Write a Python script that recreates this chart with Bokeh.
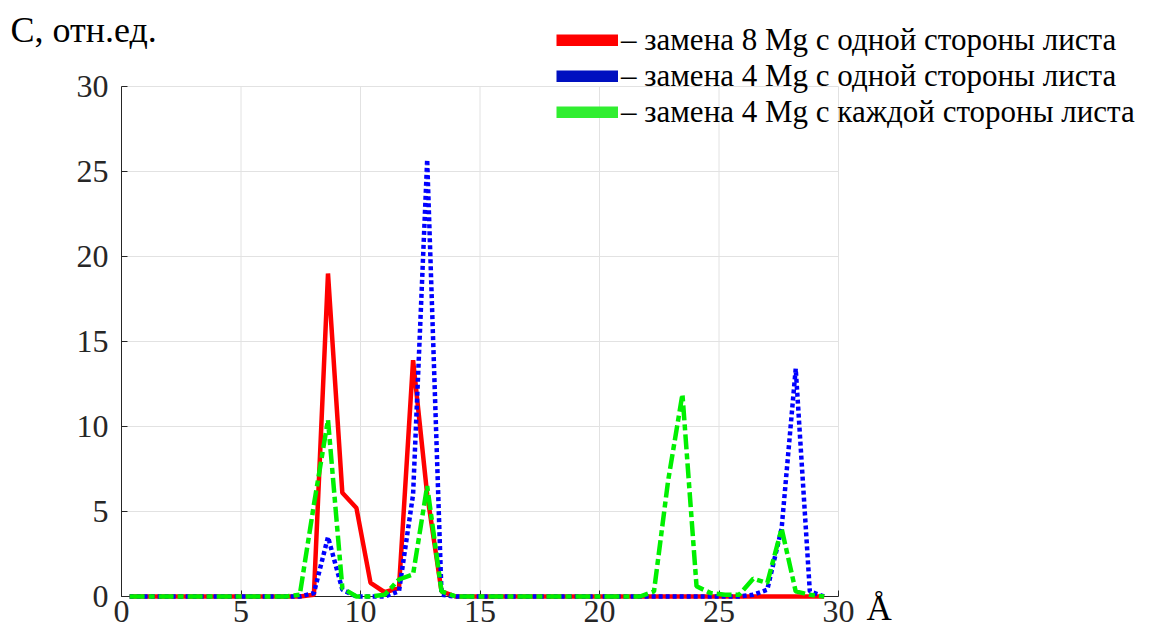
from bokeh.plotting import figure
from bokeh.models import Range1d, FixedTicker, Legend, LegendItem, Label
from bokeh.embed import file_html
from bokeh.resources import INLINE

NAN = float("nan")

# distance, Å
x_vals = [0.34, 0.93, 1.53, 2.12, 2.71, 3.31, 3.90, 4.49, 5.08, 5.68,
          6.27, 6.86, 7.46, 8.05, 8.64, 9.24, 9.83, 10.42, 11.01, 11.61,
          12.20, 12.79, 13.39, 13.98, 14.57, 15.17, 15.76, 16.35, 16.94, 17.54,
          18.13, 18.72, 19.32, 19.91, 20.50, 21.10, 21.69, 22.28, 22.87, 23.47,
          24.06, 24.65, 25.25, 25.84, 26.43, 27.02, 27.62, 28.21, 28.80, 29.40]

# замена 8 Mg с одной стороны листа
red_vals = [0, 0, 0, 0, 0, 0, 0, 0, 0, 0,
            0, 0, 0, 0.1, 19.0, 6.1, 5.2, 0.8, 0.25, 0.5,
            13.9, 6.0, 0.3, 0, 0, 0, 0, 0, 0, 0,
            0, 0, 0, 0, 0, 0, 0, 0, 0, 0,
            0, 0, 0, 0, 0, 0, 0, 0, 0, 0]

# замена 4 Mg с одной стороны листа
blue_vals = [0, 0, 0, 0, 0, 0, 0, 0, 0, 0,
             0, 0, 0, 0.2, 3.5, 0.4, 0, 0, 0, 0.3,
             6.0, 25.7, 0.1, 0, 0, 0, 0, 0, 0, 0,
             0, 0, 0, 0, 0, 0, 0, 0, 0, 0,
             0, 0, 0, 0, 0.1, 0.4, 4.0, 13.4, 0.3, 0]

# замена 4 Mg с каждой стороны листа
green_vals = [0, 0, 0, 0, 0, 0, 0, 0, 0, 0,
              0, 0, 0.1, 5.4, 10.4, 0.5, 0, 0, 0.1, 1.0,
              1.3, 6.5, 0.3, 0, 0, 0, 0, 0, 0, 0,
              0, 0, 0, 0, 0, 0, 0, 0.3, 6.8, 11.9,
              0.6, 0.2, 0.1, 0.1, 1.05, 0.8, 4.0, 0.3, 0.1, 0]

tick_vals = [0, 5, 10, 15, 20, 25, 30]
axis_min, axis_max = 0, 30
legend_labels = ["– замена 8 Mg с одной стороны листа",
                 "– замена 4 Mg с одной стороны листа",
                 "– замена 4 Mg с каждой стороны листа"]
y_label = "С, отн.ед."
x_label = "Å"

SERIF = "Liberation Serif"
AX = "#262626"
GRID = "#e2e2e2"

# canvas / axes geometry (pixels)
W, H = 1136, 627
X0_PX, X30_PX = 121, 838
Y0_PX, Y30_PX = 596, 86
sx = (X30_PX - X0_PX) / 30.0
sy = (Y0_PX - Y30_PX) / 30.0

p = figure(width=W, height=H, output_backend="svg", toolbar_location=None,
           x_range=Range1d(-X0_PX / sx, (W - X0_PX) / sx),
           y_range=Range1d(-(H - Y0_PX) / sy, 30 + Y30_PX / sy),
           min_border_left=0, min_border_right=0,
           min_border_top=0, min_border_bottom=0)
p.background_fill_color = "white"
p.border_fill_color = "white"
p.outline_line_color = None
p.grid.visible = False

for ax in (p.xaxis[0], p.yaxis[0]):
    ax.fixed_location = 0
    ax.bounds = (axis_min, axis_max)
    ax.level = "underlay"
    ax.ticker = FixedTicker(ticks=tick_vals)
    ax.axis_line_color = AX
    ax.major_tick_line_color = AX
    ax.major_tick_in = 6
    ax.major_tick_out = 0
    ax.minor_tick_line_color = None
    ax.major_label_text_font = SERIF
    ax.major_label_text_font_size = "32px"
    ax.major_label_text_color = AX
p.yaxis[0].major_label_standoff = 13
p.xaxis[0].major_label_standoff = 4

# grid lines limited to the 0..30 box
p.segment(x0=tick_vals, y0=[axis_min] * len(tick_vals), x1=tick_vals,
          y1=[axis_max] * len(tick_vals), line_color=GRID, line_width=1, level="image")
p.segment(x0=[axis_min] * len(tick_vals), y0=tick_vals, x1=[axis_max] * len(tick_vals),
          y1=tick_vals, line_color=GRID, line_width=1, level="image")

p.line(x_vals, red_vals, line_color="#ff0000", line_width=4.5)
p.line(x_vals, blue_vals, line_color="#0000ff", line_width=4.5, line_dash="4 3")
p.line(x_vals, green_vals, line_color="#00f000", line_width=4.5, line_dash="15 4 6 4")

# legend swatches (NaN data, only used for the legend glyphs)
d1 = p.line([NAN, NAN], [NAN, NAN], line_color="#ff0000", line_width=12)
d2 = p.line([NAN, NAN], [NAN, NAN], line_color="#0010c0", line_width=12)
d3 = p.line([NAN, NAN], [NAN, NAN], line_color="#30ee30", line_width=12)

legend = Legend(items=[LegendItem(label=legend_labels[0], renderers=[d1]),
                       LegendItem(label=legend_labels[1], renderers=[d2]),
                       LegendItem(label=legend_labels[2], renderers=[d3])],
                location=(556, H - 130), orientation="vertical",
                label_text_font=SERIF, label_text_font_size="31px",
                label_text_color="black", label_height=36,
                glyph_width=62, glyph_height=12, label_standoff=3,
                spacing=0, padding=0, margin=0,
                border_line_color=None, background_fill_alpha=0)
p.add_layout(legend)

p.add_layout(Label(x=(10 - X0_PX) / sx, y=(Y0_PX - 29) / sy, text=y_label,
                   text_font=SERIF, text_font_size="36px", text_color="black",
                   text_baseline="alphabetic", text_align="left"))
p.add_layout(Label(x=(866 - X0_PX) / sx, y=(Y0_PX - 608) / sy, text=x_label,
                   text_font=SERIF, text_font_size="35px", text_color="black",
                   text_baseline="alphabetic", text_align="left"))

open("out.html", "w").write(file_html(p, INLINE))
